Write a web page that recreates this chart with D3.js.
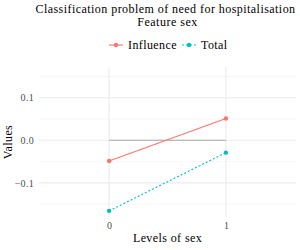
<!DOCTYPE html>
<html>
<head>
<meta charset="utf-8">
<script src="https://cdn.jsdelivr.net/npm/d3@7"></script>
<style>
  body { margin: 0; background: #fff; }
</style>
</head>
<body>
<div id="chart-area"></div>
<script>
// data
var levels = [0, 1];
var influence = [-0.0485, 0.051];
var total = [-0.1656, -0.029];
var seriesNames = ["Influence", "Total"];
var seriesColors = ["#F8766D", "#00BFC4"];
var yTicks = [-0.1, 0.0, 0.1];
var yMinor = [-0.15, -0.05, 0.05, 0.15];

var W = 300, H = 250;
var FONT = "'Liberation Serif', serif";
var panel = {left: 39, right: 296, top: 67, bottom: 217};

var svg = d3.select("#chart-area")
    .append("svg")
    .attr("width", W)
    .attr("height", H);

var x = d3.scaleLinear().domain([-0.6, 1.6]).range([panel.left, panel.right]);
var y = d3.scaleLinear().domain([-0.18, 0.172]).range([panel.bottom, panel.top]);

// grid
svg.selectAll(".minor").data(yMinor).enter().append("line")
    .attr("x1", panel.left).attr("x2", panel.right)
    .attr("y1", d => y(d)).attr("y2", d => y(d))
    .attr("stroke", "#f2f2f2").attr("stroke-width", 0.6);
svg.selectAll(".major").data(yTicks).enter().append("line")
    .attr("x1", panel.left).attr("x2", panel.right)
    .attr("y1", d => y(d)).attr("y2", d => y(d))
    .attr("stroke", "#ebebeb").attr("stroke-width", 1.1);
svg.selectAll(".vmajor").data(levels).enter().append("line")
    .attr("x1", d => x(d)).attr("x2", d => x(d))
    .attr("y1", panel.top).attr("y2", panel.bottom)
    .attr("stroke", "#ebebeb").attr("stroke-width", 1.1);

// zero reference line
svg.append("line")
    .attr("x1", x(levels[0])).attr("x2", x(levels[1]))
    .attr("y1", y(0)).attr("y2", y(0))
    .attr("stroke", "#aaaaaa").attr("stroke-width", 1.1);

// series
var series = [influence, total];
var line = d3.line().x((d, i) => x(levels[i])).y(d => y(d));
series.forEach(function(vals, k) {
    svg.append("path")
        .attr("d", line(vals))
        .attr("fill", "none")
        .attr("stroke", seriesColors[k])
        .attr("stroke-width", 1.1)
        .attr("stroke-dasharray", k == 1 ? "2,2" : null);
    svg.selectAll(".pt" + k).data(vals).enter().append("circle")
        .attr("cx", (d, i) => x(levels[i]))
        .attr("cy", d => y(d))
        .attr("r", 2.2)
        .attr("fill", seriesColors[k]);
});

// axes
var yAxis = d3.axisLeft(y).tickValues(yTicks).tickSize(0).tickPadding(5)
    .tickFormat(d3.format(".1f"));
var gy = svg.append("g").attr("transform", "translate(" + panel.left + ",0)").call(yAxis);
gy.select(".domain").remove();
gy.attr("font-family", null).attr("font-size", null);
gy.selectAll("text").attr("fill", "#4d4d4d").style("font-size", "10px")
    .style("font-family", FONT).style("letter-spacing", "0.3px");

var xAxis = d3.axisBottom(x).tickValues(levels).tickSize(0).tickPadding(5)
    .tickFormat(d3.format("d"));
var gx = svg.append("g").attr("transform", "translate(0," + panel.bottom + ")").call(xAxis);
gx.select(".domain").remove();
gx.attr("font-family", null).attr("font-size", null);
gx.selectAll("text").attr("fill", "#4d4d4d").style("font-size", "10px")
    .style("font-family", FONT);

// labels
var cx = (panel.left + panel.right) / 2;
function label(t, size, ls) {
    return t.style("font-family", FONT).style("font-size", size)
        .style("letter-spacing", ls || "0.4px").attr("fill", "#000");
}
label(svg.append("text").attr("x", cx).attr("y", 242).attr("text-anchor", "middle"), "12px")
    .text("Levels of sex");
label(svg.append("text")
    .attr("transform", "translate(12," + ((panel.top + panel.bottom) / 2) + ") rotate(-90)")
    .attr("text-anchor", "middle"), "12px").text("Values");
label(svg.append("text").attr("x", cx - 2).attr("y", 13).attr("text-anchor", "middle"), "12px", "0.45px")
    .text("Classification problem of need for hospitalisation");
label(svg.append("text").attr("x", cx).attr("y", 26).attr("text-anchor", "middle"), "12px", "0.5px")
    .text("Feature sex");

// legend
var legX = [116, 189];
seriesNames.forEach(function(name, k) {
    var g = svg.append("g").attr("transform", "translate(" + legX[k] + ",45)");
    g.append("line").attr("x1", -7).attr("x2", 7)
        .attr("stroke", seriesColors[k]).attr("stroke-width", 1.1)
        .attr("stroke-dasharray", k == 1 ? "2,2" : null);
    g.append("circle").attr("r", 2.2).attr("fill", seriesColors[k]);
    label(g.append("text").attr("x", 12).attr("y", 4), "12px").text(name);
});
</script>
</body>
</html>
